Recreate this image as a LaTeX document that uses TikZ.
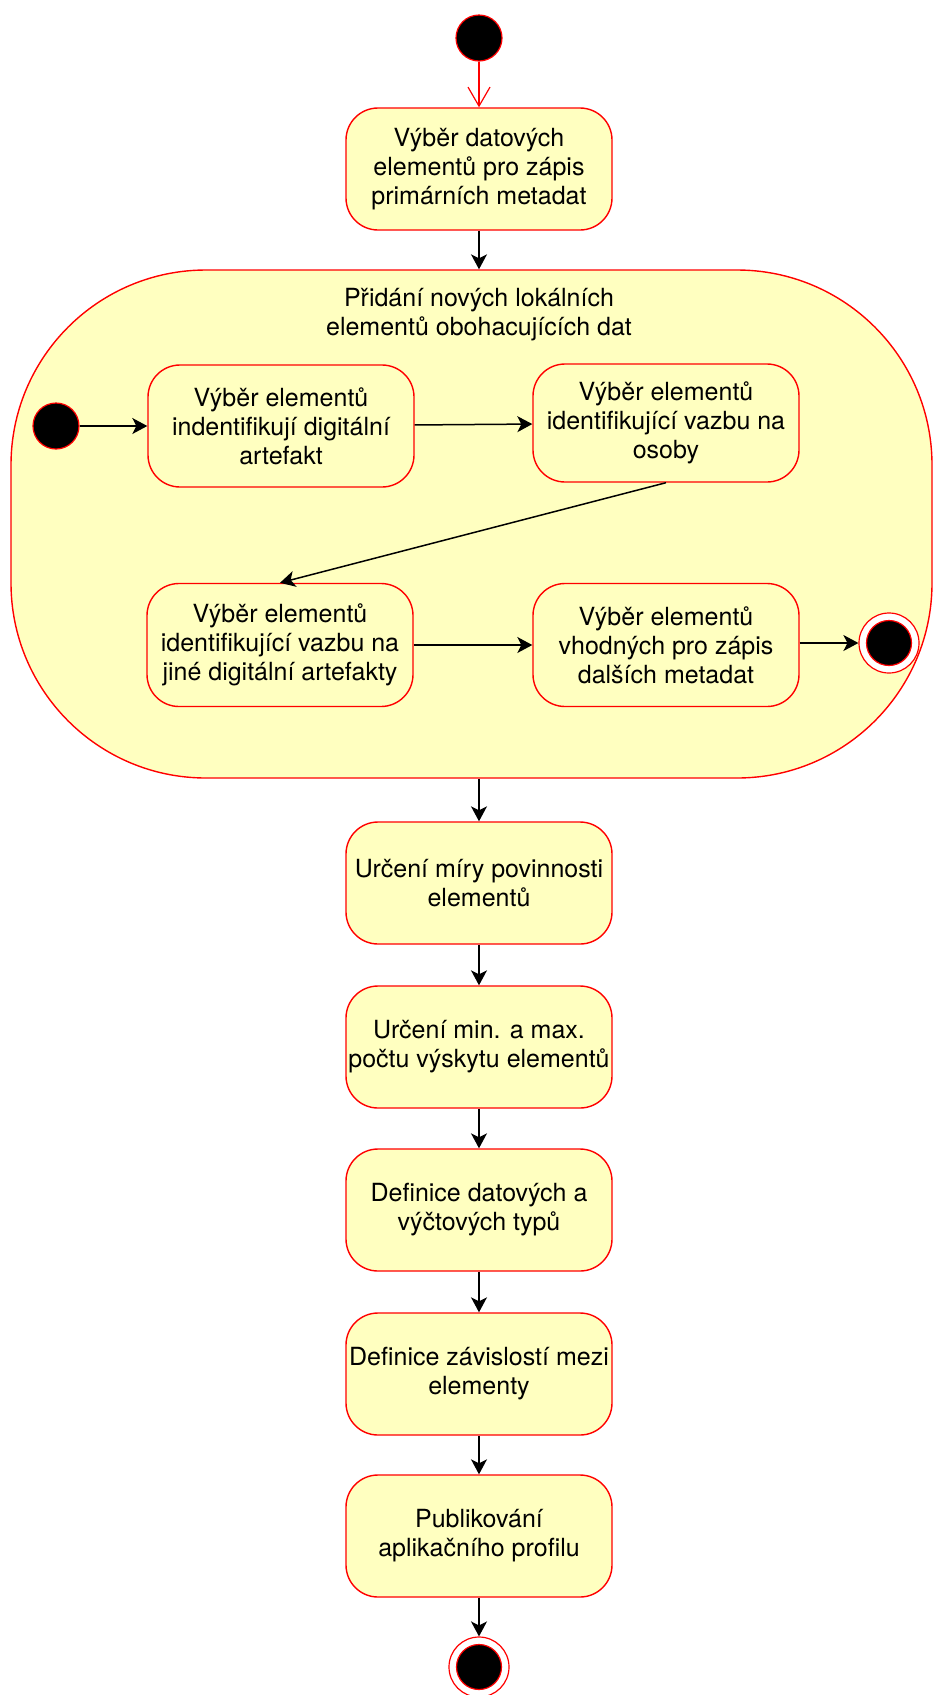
\documentclass[tikz,border=0pt]{standalone}
\usepackage{fontspec}
\setmainfont{TeX Gyre Heros}
\usetikzlibrary{arrows.meta}
\definecolor{statefill}{HTML}{FFFFC0}
\definecolor{stateline}{HTML}{FF0000}
\begin{document}
\begin{tikzpicture}[x=1pt,y=-1pt,
  txt/.style={font=\fontsize{25}{29}\selectfont, align=center},
  state/.style={txt, draw=stateline, fill=statefill, line width=1.4pt,
    rounded corners=32pt, minimum width=266pt, minimum height=122pt, inner sep=0pt},
  region/.style={draw=stateline, fill=statefill, line width=1.4pt,
    rounded corners=195pt, minimum width=921pt, minimum height=508pt, inner sep=0pt},
  initial/.style={circle, draw=stateline, fill=black, line width=1.2pt,
    minimum size=46pt, inner sep=0pt},
  finalring/.style={circle, draw=stateline, fill=white, line width=1.2pt,
    minimum size=60pt, inner sep=0pt},
  finaldot/.style={circle, draw=stateline, fill=black, line width=1.2pt,
    minimum size=45pt, inner sep=0pt},
  flow/.style={draw=black, line width=1.5pt,
    -{Stealth[length=15pt,width=16pt,inset=4pt]}},
  startflow/.style={draw=stateline, line width=1.2pt,
    -{Straight Barb[length=19pt,width=22pt,line width=1.2pt]}}
]
\useasboundingbox (0,0) rectangle (934,1695);

% top initial node and first activity
\node[initial] (start) at (479,38) {};
\node[state] (s1) at (479,169) {Výběr datových\\elementů pro zápis\\primárních metadat};

% composite activity with its nested flow
\node[region] (comp) at (471.5,524) {};
\node[txt] (comptitle) at (479,315) {Přidání nových lokálních\\elementů obohacujících dat};

\node[initial] (istart) at (56,426) {};
\node[state, minimum height=122pt] (a1) at (281,426) {Výběr elementů\\indentifikují digitální\\artefakt};
\node[state, minimum height=118pt] (a2) at (666,423) {Výběr elementů\\identifikující vazbu na\\osoby};
\node[state, minimum height=123pt] (a3) at (280,645) {Výběr elementů\\identifikující vazbu na\\jiné digitální artefakty};
\node[state, minimum height=123pt] (a4) at (666,645) {Výběr elementů\\vhodných pro zápis\\dalších metadat};
\node[finalring] (iend) at (889,643) {};
\node[finaldot] (ienddot) at (889,643) {};

% activities below the composite
\node[state] (b1) at (479,883) {Určení míry povinnosti\\elementů};
\node[state] (b2) at (479,1047) {Určení min. a max.\\počtu výskytu elementů};
\node[state] (b3) at (479,1210) {Definice datových a\\výčtových typů};
\node[state] (b4) at (479,1374) {Definice závislostí mezi\\elementy};
\node[state] (b5) at (479,1536) {Publikování\\aplikačního profilu};
\node[finalring] (end) at (479,1667) {};
\node[finaldot] (enddot) at (479,1667) {};

% transitions
\draw[startflow] (start) -- (s1);
\draw[flow] (s1) -- (s1 |- comp.north);
\draw[flow] (istart) -- (a1);
\draw[flow] (a1) -- (a2);
\draw[flow] (a2.south) -- (a3.north);
\draw[flow] (a3) -- (a4);
\draw[flow] (a4.east |- iend) -- (iend.west);
\draw[flow] (b1 |- comp.south) -- (b1);
\draw[flow] (b1) -- (b2);
\draw[flow] (b2) -- (b3);
\draw[flow] (b3) -- (b4);
\draw[flow] (b4) -- (b5);
\draw[flow] (b5) -- (end);
\end{tikzpicture}
\end{document}
